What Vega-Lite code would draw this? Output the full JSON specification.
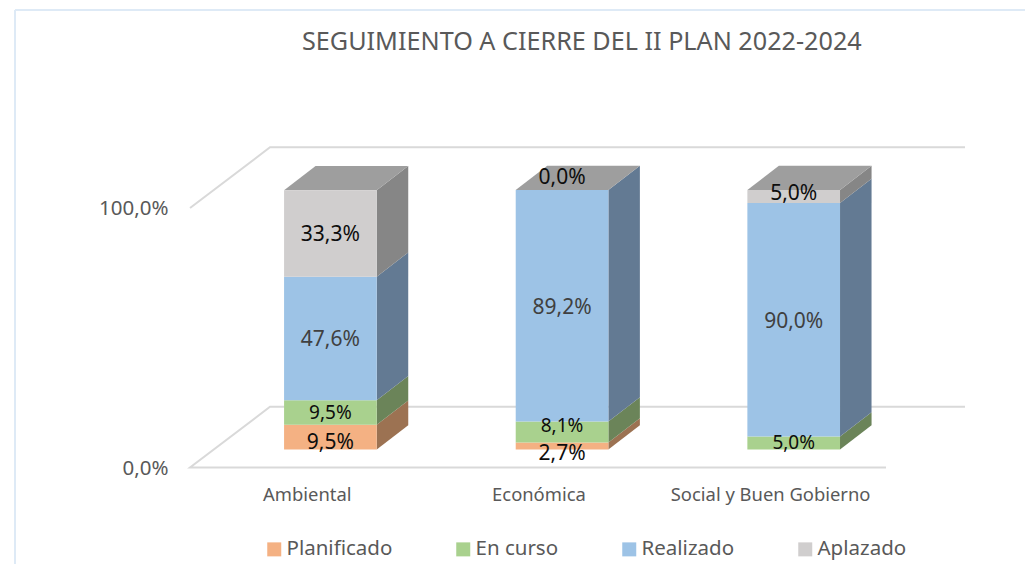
{
"$schema":"https://vega.github.io/schema/vega-lite/v6.json",
"width":1025,"height":564,"autosize":"none","padding":0,"background":"white",
"title":{"text":"SEGUIMIENTO A CIERRE DEL II PLAN 2022-2024","anchor":"start","frame":"group","dx":302,"offset":-55,"font":"Noto Sans","fontSize":25.2,"fontWeight":"normal","color":"#595959"},
"config":{"view":{"stroke":null},"font":"Noto Sans"},
"data":{"values":[
{"categoria":"Ambiental","estado":"Planificado","valor":9.5},
{"categoria":"Ambiental","estado":"En curso","valor":9.5},
{"categoria":"Ambiental","estado":"Realizado","valor":47.6},
{"categoria":"Ambiental","estado":"Aplazado","valor":33.3},
{"categoria":"Económica","estado":"Planificado","valor":2.7},
{"categoria":"Económica","estado":"En curso","valor":8.1},
{"categoria":"Económica","estado":"Realizado","valor":89.2},
{"categoria":"Económica","estado":"Aplazado","valor":0.0},
{"categoria":"Social y Buen Gobierno","estado":"En curso","valor":5.0},
{"categoria":"Social y Buen Gobierno","estado":"Realizado","valor":90.0},
{"categoria":"Social y Buen Gobierno","estado":"Aplazado","valor":5.0}
]},
"transform":[
{"calculate":"indexof(['Planificado','En curso','Realizado','Aplazado'],datum.estado)","as":"orden"},
{"stack":"valor","groupby":["categoria"],"sort":[{"field":"orden","order":"ascending"}],"as":["v0","v1"]},
{"calculate":"indexof(['Ambiental','Económica','Social y Buen Gobierno'],datum.categoria)","as":"pos"}
],
"layer":[
{"data":{"values":[{"nivel":0},{"nivel":100}]},
 "transform":[
 {"calculate":"datum.nivel==0?[0,1,2,3]:[1,2,3]","as":"punto"},
 {"flatten":["punto"]},
 {"calculate":"[2.3984,-0.606,-0.2607,2.7395][datum.punto]","as":"xw"},
 {"calculate":"datum.nivel+(datum.punto>=2?23.4:0)","as":"yw"}],
 "mark":{"type":"line","stroke":"#D9D9D9","strokeWidth":2},
 "encoding":{
 "x":{"field":"xw","type":"quantitative","scale":{"domain":[-1.4263,2.9985],"nice":false,"zero":false},
  "axis":{"orient":"bottom","values":[0,1,2],"labelExpr":"['Ambiental','Económica','Social y Buen Gobierno'][datum.value]","title":null,"domain":false,"ticks":false,"grid":false,"offset":-70,"labelPadding":0,"labelBaseline":"middle","labelOffset":-23.6,"labelFontSize":18.4,"labelColor":"#595959","labelFlush":false,"labelOverlap":false,"labelLimit":400,"labelFont":"Noto Sans"}},
 "y":{"field":"yw","type":"quantitative","scale":{"domain":[-37.19,180.15],"nice":false,"zero":false},
  "axis":{"orient":"left","values":[0,100],"labelExpr":"replace(format(datum.value,'.1f'),'.',',')+'%'","title":null,"domain":false,"ticks":false,"grid":false,"offset":-175,"labelPadding":7,"labelOffset":1,"labelFontSize":20.5,"labelColor":"#595959","labelFont":"Noto Sans"}},
 "detail":{"field":"nivel"},
 "order":{"field":"punto","type":"quantitative"}}},
{"data":{"values":[{}]},"mark":{"type":"rule","stroke":"#DEEAF6","strokeWidth":2},
 "encoding":{"x":{"datum":-1.3615,"type":"quantitative","scale":{"domain":[-1.4263,2.9985],"nice":false,"zero":false},"axis":null},
 "y":{"datum":-37.19,"type":"quantitative","scale":{"domain":[-37.19,180.15],"nice":false,"zero":false},"axis":null},"y2":{"datum":176.3}}},
{"data":{"values":[{}]},"mark":{"type":"rule","stroke":"#DEEAF6","strokeWidth":2},
 "encoding":{"x":{"datum":-1.3615,"type":"quantitative","scale":{"domain":[-1.4263,2.9985],"nice":false,"zero":false},"axis":null},"x2":{"datum":2.9985},
 "y":{"datum":176.3,"type":"quantitative","scale":{"domain":[-37.19,180.15],"nice":false,"zero":false},"axis":null}}},
{"transform":[
 {"calculate":"[0,1]","as":"d"},{"flatten":["d"]},
 {"calculate":"datum.pos+0.2+0.136*datum.d","as":"xs"},
 {"calculate":"datum.v0+9.36*datum.d","as":"ya"},
 {"calculate":"datum.v1+9.36*datum.d","as":"yb"}],
 "mark":{"type":"area","orient":"vertical"},
 "encoding":{
 "x":{"field":"xs","type":"quantitative","scale":{"domain":[-1.4263,2.9985],"nice":false,"zero":false},"axis":null},
 "y":{"field":"ya","type":"quantitative","stack":null,"scale":{"domain":[-44.12,173.22],"nice":false,"zero":false},"axis":null},
 "y2":{"field":"yb"},
 "detail":{"field":"categoria"},
 "color":{"field":"estado","type":"nominal","legend":null,"scale":{"domain":["Planificado","En curso","Realizado","Aplazado"],"range":["#9C7252","#6B8459","#637A93","#868686"]}}}},
{"transform":[
 {"filter":"datum.estado=='Aplazado'"},
 {"calculate":"[0,1]","as":"d"},{"flatten":["d"]},
 {"calculate":"datum.pos-0.2+0.136*datum.d","as":"xa"},
 {"calculate":"datum.pos+0.2+0.136*datum.d","as":"xb"},
 {"calculate":"datum.v1+9.36*datum.d","as":"yt"}],
 "mark":{"type":"area","orient":"horizontal","fill":"#9E9E9E"},
 "encoding":{
 "x":{"field":"xa","type":"quantitative","stack":null,"scale":{"domain":[-1.4263,2.9985],"nice":false,"zero":false},"axis":null},
 "x2":{"field":"xb"},
 "y":{"field":"yt","type":"quantitative","scale":{"domain":[-44.12,173.22],"nice":false,"zero":false},"axis":null},
 "detail":{"field":"categoria"}}},
{"transform":[
 {"calculate":"datum.pos-0.2","as":"xi"},
 {"calculate":"datum.pos+0.2","as":"xd"}],
 "mark":{"type":"rect"},
 "encoding":{
 "x":{"field":"xi","type":"quantitative","scale":{"domain":[-1.4263,2.9985],"nice":false,"zero":false},"axis":null},
 "x2":{"field":"xd"},
 "y":{"field":"v0","type":"quantitative","scale":{"domain":[-44.12,173.22],"nice":false,"zero":false},"axis":null},
 "y2":{"field":"v1"},
 "color":{"field":"estado","type":"nominal","scale":{"domain":["Planificado","En curso","Realizado","Aplazado"],"range":["#F4B183","#A9D18E","#9DC3E6","#D0CECE"]},
  "legend":{"orient":"none","legendX":264,"legendY":539,"direction":"horizontal","columns":4,"title":null,"symbolType":"square","symbolSize":196,"symbolStrokeWidth":0,"symbolOpacity":1,"labelFontSize":20.5,"labelColor":"#595959","labelFont":"Noto Sans","labelOffset":2,"columnPadding":60,"labelLimit":300,"symbolOffset":0}}}},
{"transform":[
 {"calculate":"({'Ambiental|Planificado':-1.5,'Ambiental|En curso':0.7,'Económica|Planificado':-2.4,'Económica|En curso':3,'Económica|Aplazado':5.4,'Social y Buen Gobierno|En curso':0.9,'Social y Buen Gobierno|Aplazado':1.9})[datum.categoria+'|'+datum.estado]||0","as":"ajuste"},
 {"calculate":"(datum.v0+datum.v1)/2+datum.ajuste","as":"yl"},
 {"calculate":"replace(format(datum.valor,'.1f'),'.',',')+'%'","as":"etiqueta"}],
 "mark":{"type":"text","font":"Noto Sans","baseline":"middle","align":"center","dy":2},
 "encoding":{
 "x":{"field":"pos","type":"quantitative","scale":{"domain":[-1.4263,2.9985],"nice":false,"zero":false},"axis":null},
 "y":{"field":"yl","type":"quantitative","scale":{"domain":[-44.12,173.22],"nice":false,"zero":false},"axis":null},
 "text":{"field":"etiqueta"},
 "size":{"condition":{"test":"datum.estado=='En curso'","value":19},"value":21},
 "color":{"condition":{"test":"datum.estado=='Realizado'","value":"#404040"},"value":"#0D0D0D"}}}
],
"resolve":{"scale":{"y":"independent","color":"independent"},"axis":{"x":"independent"}}
}
